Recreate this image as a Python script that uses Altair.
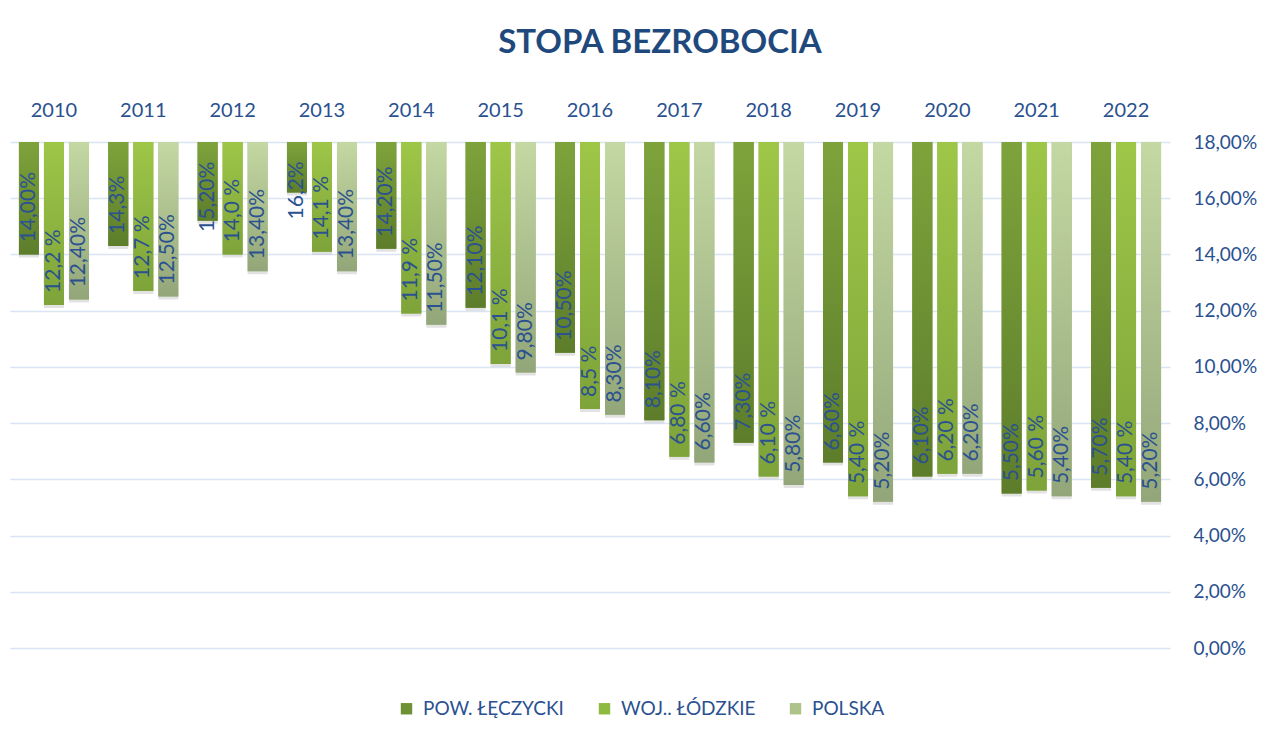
import altair as alt
import pandas as pd

years = ["2010", "2011", "2012", "2013", "2014", "2015", "2016",
         "2017", "2018", "2019", "2020", "2021", "2022"]
series = ["POW. ŁĘCZYCKI", "WOJ.. ŁÓDZKIE", "POLSKA"]

pow_vals = [14.0, 14.3, 15.2, 16.2, 14.2, 12.1, 10.5, 8.1, 7.3, 6.6, 6.1, 5.5, 5.7]
woj_vals = [12.2, 12.7, 14.0, 14.1, 11.9, 10.1, 8.5, 6.8, 6.1, 5.4, 6.2, 5.6, 5.4]
pol_vals = [12.4, 12.5, 13.4, 13.4, 11.5, 9.8, 8.3, 6.6, 5.8, 5.2, 6.2, 5.4, 5.2]

pow_labels = ["14,00%", "14,3%", "15,20%", "16,2%", "14,20%", "12,10%", "10,50%",
              "8,10%", "7,30%", "6,60%", "6,10%", "5,50%", "5,70%"]
woj_labels = ["12,2 %", "12,7 %", "14,0 %", "14,1 %", "11,9 %", "10,1 %", "8,5 %",
              "6,80 %", "6,10 %", "5,40 %", "6,20 %", "5,60 %", "5,40 %"]
pol_labels = ["12,40%", "12,50%", "13,40%", "13,40%", "11,50%", "9,80%", "8,30%",
              "6,60%", "5,80%", "5,20%", "6,20%", "5,40%", "5,20%"]

y_ticks = [0, 2, 4, 6, 8, 10, 12, 14, 16, 18]
y_max = 18

rows = []
for s, vals, labs in [(series[0], pow_vals, pow_labels),
                      (series[1], woj_vals, woj_labels),
                      (series[2], pol_vals, pol_labels)]:
    for yr, v, lab in zip(years, vals, labs):
        rows.append({"year": yr, "series": s, "value": v, "label": lab})
df = pd.DataFrame(rows)

TXT = "#2A5190"
FONT = "Lato"

solid = ["#6E9233", "#8FBA40", "#ADC38A"]
grads = [
    ("#7EA33B", "#5D7D2B"),
    ("#9EC647", "#7EA33A"),
    ("#C4D8A3", "#93A679"),
]

x_axis = alt.Axis(orient="top", title=None, domain=False, ticks=False,
                  labelAngle=0, labelPadding=22, labelFont=FONT,
                  labelFontSize=20, labelColor=TXT, grid=False)
x_enc = alt.X("year:N", sort=years,
              scale=alt.Scale(paddingInner=0.216, paddingOuter=0.1),
              axis=x_axis)
xo_enc = alt.XOffset("series:N", sort=series,
                     scale=alt.Scale(domain=series, paddingInner=0.2, paddingOuter=0))
y_scale = alt.Scale(domain=[0, y_max], nice=False, zero=True)
y_axis = alt.Axis(orient="right", title=None, values=y_ticks, domain=False,
                  ticks=False, labelPadding=23, labelFont=FONT,
                  labelFontSize=19, labelColor=TXT, grid=True,
                  gridColor="#D9E4F4", gridWidth=1.5,
                  labelExpr="replace(format(datum.value, '.2f'), '.', ',') + '%'")
y_enc = alt.Y("value:Q", scale=y_scale, axis=y_axis)

base = alt.Chart(df).encode(x=x_enc, xOffset=xo_enc, y=y_enc, y2=alt.datum(y_max))

shadow = base.mark_bar(color="#BFBFBF", opacity=0.45, yOffset=3)

legend_layer = base.mark_bar().encode(
    color=alt.Color("series:N", sort=series,
                    scale=alt.Scale(domain=series, range=solid),
                    legend=alt.Legend(title=None, orient="none", direction="horizontal",
                                      legendX=387, legendY=557, symbolType="square",
                                      symbolSize=130, symbolStrokeWidth=0,
                                      labelFont=FONT, labelFontSize=19,
                                      labelColor=TXT, columnPadding=30,
                                      labelOffset=7))
)

grad_layers = []
for s, (c0, c1) in zip(series, grads):
    g = alt.Gradient(gradient="linear", x1=0, x2=0, y1=0, y2=1,
                     stops=[alt.GradientStop(color=c0, offset=0),
                            alt.GradientStop(color=c1, offset=1)])
    grad_layers.append(
        base.transform_filter(alt.datum.series == s).mark_bar(fill=g)
    )

text = alt.Chart(df).transform_calculate(
    pos="min(datum.value + 0.43, 17.47 - length(datum.label) * 0.445)"
).mark_text(angle=270, align="left", baseline="middle", font=FONT,
            fontSize=21, color=TXT).encode(
    x=x_enc, xOffset=xo_enc,
    y=alt.Y("pos:Q", scale=y_scale, axis=y_axis),
    text="label:N",
)

chart = alt.layer(shadow, legend_layer, *grad_layers, text).properties(
    width=1160, height=506,
    padding={"left": 2, "top": 19, "right": 0, "bottom": 0},
    title=alt.TitleParams("STOPA BEZROBOCIA", font=FONT, fontSize=33, fontWeight="bold",
                          color="#1F497D", anchor="middle", dx=70, offset=40),
).configure(background="white").configure_view(stroke=None)

chart.save("out.html", embed_options={"renderer": "svg", "actions": False})
